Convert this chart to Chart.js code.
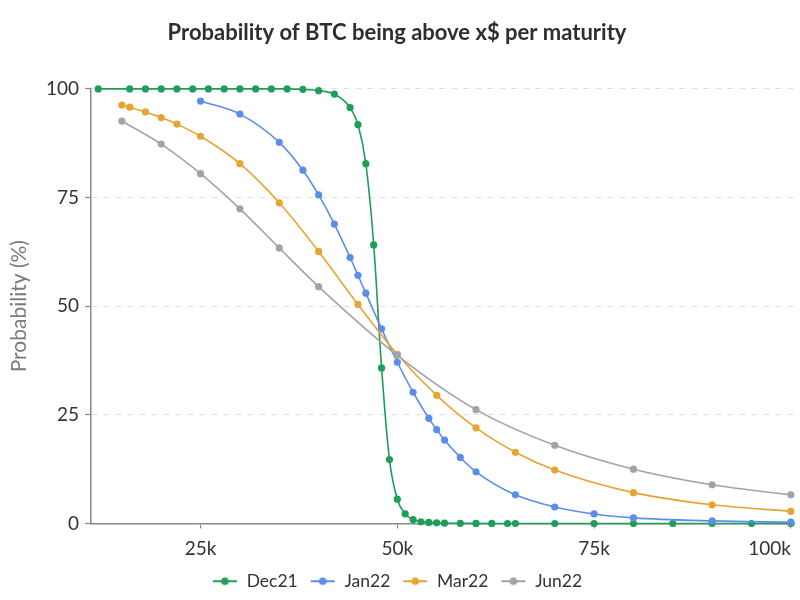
<!DOCTYPE html>
<html>
<head>
<meta charset="utf-8">
<script src="https://cdn.jsdelivr.net/npm/chart.js@4.4.1/dist/chart.umd.min.js"></script>
<style>
html,body{margin:0;padding:0;background:#fff;}
#c{display:block;}
</style>
</head>
<body>
<canvas id="c" width="800" height="600"></canvas>
<script>
// ---- data (strike in $, probability in %) ----
const seriesNames = ['Dec21', 'Jan22', 'Mar22', 'Jun22'];
const seriesColors = ['#1f9e57', '#5b8ee8', '#e6a532', '#a0a3a8'];

const dec21Strikes = [12000,16000,18000,20000,22000,24000,26000,28000,30000,32000,34000,36000,38000,40000,42000,44000,45000,46000,47000,48000,49000,50000,51000,52000,53000,54000,55000,56000,58000,60000,62000,64000,65000,70000,75000,80000,85000,90000,95000,100000];
const dec21Prob = [100,100,100,100,100,100,100,100,100,100,100,100,99.9,99.6,98.8,95.7,91.8,82.8,64.1,35.8,14.7,5.6,2.2,0.9,0.4,0.25,0.15,0.08,0.04,0.02,0.01,0,0,0,0,0,0,0,0,0];

const jan22Strikes = [25000,30000,35000,38000,40000,42000,44000,45000,46000,48000,50000,52000,54000,55000,56000,58000,60000,65000,70000,75000,80000,90000,100000];
const jan22Prob = [97.2,94.2,87.7,81.3,75.6,68.9,61.2,57.1,53.0,44.8,37.1,30.2,24.2,21.6,19.2,15.2,11.9,6.6,3.8,2.2,1.3,0.6,0.3];

const mar22Strikes = [15000,16000,18000,20000,22000,25000,30000,35000,40000,45000,50000,55000,60000,65000,70000,80000,90000,100000];
const mar22Prob = [96.3,95.8,94.7,93.4,91.9,89.1,82.8,73.8,62.6,50.4,38.9,29.5,22.0,16.4,12.3,7.1,4.3,2.8];

const jun22Strikes = [15000,20000,25000,30000,35000,40000,50000,60000,70000,80000,90000,100000];
const jun22Prob = [92.6,87.3,80.5,72.4,63.4,54.5,38.7,26.2,18.0,12.5,8.9,6.6];

const xTickValues = [25000, 50000, 75000, 100000];
const yTickValues = [0, 25, 50, 75, 100];

const titleText = 'Probability of BTC being above x$ per maturity';
const yTitleText = 'Probability (%)';

// ---- build ----
const strikesList = [dec21Strikes, jan22Strikes, mar22Strikes, jun22Strikes];
const probList = [dec21Prob, jan22Prob, mar22Prob, jun22Prob];

function legendMarker(color) {
  const cv = document.createElement('canvas');
  cv.width = 26; cv.height = 10;
  const g = cv.getContext('2d');
  g.strokeStyle = color; g.lineWidth = 2;
  g.beginPath(); g.moveTo(1, 5); g.lineTo(25, 5); g.stroke();
  g.fillStyle = color;
  g.beginPath(); g.arc(13, 5, 3.8, 0, Math.PI * 2); g.fill();
  return cv;
}
const markers = seriesColors.map(legendMarker);

const datasets = seriesNames.map((name, i) => ({
  label: name,
  data: strikesList[i].map((s, j) => ({x: s, y: probList[i][j]})),
  borderColor: seriesColors[i],
  backgroundColor: seriesColors[i],
  borderWidth: 1.6,
  pointRadius: 3.6,
  pointHoverRadius: 4,
  pointBorderWidth: 0,
  cubicInterpolationMode: 'monotone',
  clip: false,
  order: seriesNames.length - i
}));

Chart.defaults.font.family = 'Lato, "Noto Sans", sans-serif';
Chart.defaults.color = '#333';

new Chart(document.getElementById('c'), {
  type: 'line',
  data: {datasets},
  options: {
    responsive: false,
    animation: false,
    layout: {padding: {left: 0, right: 6, top: 0, bottom: 0}},
    plugins: {
      title: {
        display: true,
        text: titleText,
        color: '#2e2e2e',
        font: {size: 22, weight: 'bold'},
        padding: {top: 20, bottom: 42.5}
      },
      legend: {
        position: 'bottom',
        labels: {
          usePointStyle: true,
          pointStyleWidth: 26,
          boxHeight: 10,
          padding: 12,
          color: '#333',
          font: {size: 17.5},
          sort: (a, b) => a.datasetIndex - b.datasetIndex,
          generateLabels: (chart) => {
            const items = Chart.defaults.plugins.legend.labels.generateLabels(chart);
            items.forEach(it => { it.pointStyle = markers[it.datasetIndex]; });
            return items;
          }
        }
      },
      tooltip: {enabled: false}
    },
    scales: {
      x: {
        type: 'linear',
        min: 11080,
        max: 100400,
        afterBuildTicks: (scale) => {
          scale.ticks = [{value: scale.min}].concat(xTickValues.map(v => ({value: v})));
        },
        afterFit: (scale) => { scale.height = 37; },
        ticks: {
          align: 'inner',
          padding: 9,
          color: '#333',
          font: {size: 19},
          maxRotation: 0,
          callback: (v) => (xTickValues.includes(v) ? (v / 1000) + 'k' : '')
        },
        grid: {
          drawOnChartArea: false,
          drawTicks: true,
          tickLength: 5,
          tickWidth: 1.2,
          tickColor: (ctx) => (ctx.tick && xTickValues.includes(ctx.tick.value) ? '#888' : 'rgba(0,0,0,0)')
        },
        border: {display: true, color: '#888', width: 1.5}
      },
      y: {
        type: 'linear',
        min: 0,
        max: 100,
        afterBuildTicks: (scale) => {
          scale.ticks = yTickValues.map(v => ({value: v}));
        },
        afterFit: (scale) => { scale.width = 91; },
        ticks: {
          padding: 6,
          color: '#333',
          font: {size: 19}
        },
        grid: {
          drawTicks: true,
          tickLength: 6,
          tickWidth: 1.2,
          tickColor: '#888',
          tickBorderDash: [],
          color: (ctx) => (ctx.tick && ctx.tick.value === 0 ? 'rgba(0,0,0,0)' : '#e0e0e0'),
          lineWidth: 1
        },
        border: {display: true, color: '#888', width: 1.5, dash: [6, 6]},
        title: {
          display: true,
          text: yTitleText,
          color: '#7a7a7a',
          font: {size: 21},
          padding: {top: 7, bottom: 0}
        }
      }
    }
  }
});
</script>
</body>
</html>
